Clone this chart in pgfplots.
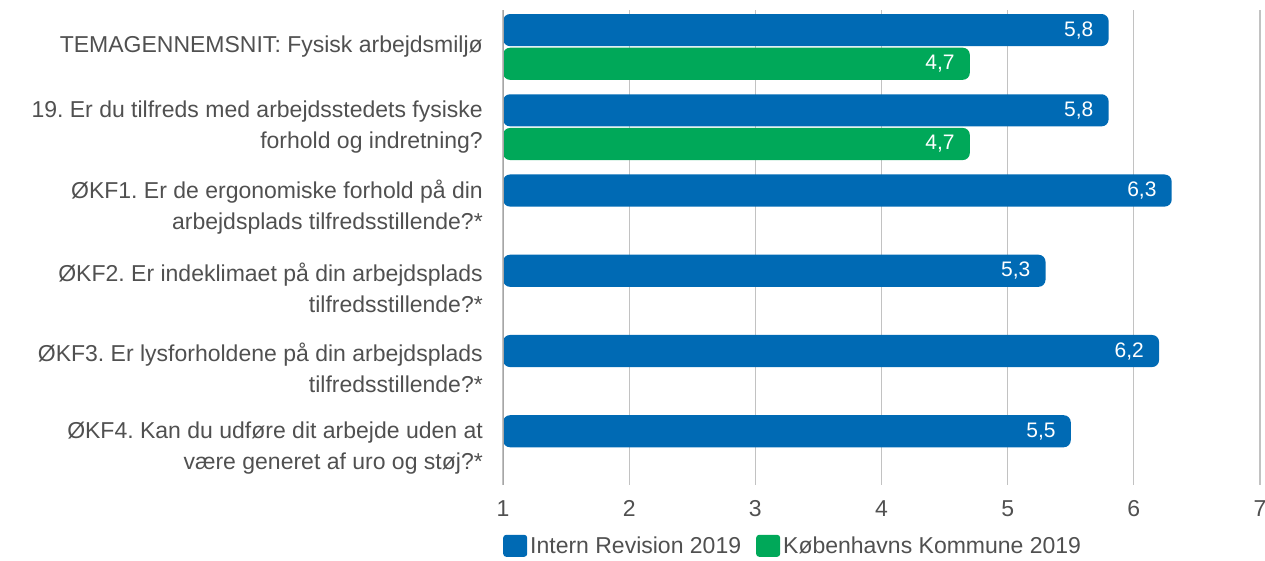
\documentclass[border=0pt]{standalone}
\usepackage{fontspec}
\setmainfont{Liberation Sans}
\usepackage{pgfplots}
\pgfplotsset{compat=1.18}
\definecolor{ablue}{RGB}{0,106,180}
\definecolor{agreen}{RGB}{0,168,89}
\definecolor{txt}{RGB}{80,80,80}
\frenchspacing
\begin{document}
\begin{tikzpicture}
\useasboundingbox (0,0) rectangle (1265pt,-561pt);
\begin{axis}[
  at={(503pt,-485pt)}, anchor=south west,
  scale only axis, width=757pt, height=475pt,
  xmin=1, xmax=7, xtick={1,...,7},
  ymin=-0.46, ymax=5.46, y dir=reverse,
  ytick={0,...,5},
  yticklabels={
    {TEMAGENNEMSNIT: Fysisk arbejdsmilj\o},
    {19. Er du tilfreds med arbejdsstedets fysiske\\forhold og indretning?},
    {\O KF1. Er de ergonomiske forhold p\aa{} din\\arbejdsplads tilfredsstillende?*},
    {\O KF2. Er indeklimaet p\aa{} din arbejdsplads\\tilfredsstillende?*},
    {\O KF3. Er lysforholdene p\aa{} din arbejdsplads\\tilfredsstillende?*},
    {\O KF4. Kan du udf\o re dit arbejde uden at\\v\ae re generet af uro og st\o j?*}},
  xbar, bar width=0.4,
  axis line style={draw=none},
  major tick length=0pt,
  xmajorgrids, grid style={line width=1.3pt, color=black!24},
  /pgf/number format/assume math mode=true,
  yticklabel style={align=right, font=\fontsize{23}{31}\selectfont, text=txt, inner sep=0pt, xshift=-20pt},
  xticklabel style={font=\fontsize{23}{26}\selectfont, text=txt, inner sep=0pt, yshift=-15pt},
  nodes near coords={\pgfmathprintnumber[fixed,fixed zerofill,precision=1,use comma]{\pgfplotspointmeta}},
  nodes near coords style={anchor=east, text=white, font=\fontsize{21}{24}\selectfont, inner sep=0pt, xshift=-15pt},
  legend style={at={(0,-0.128)}, anchor=west, draw=none, fill=none, legend columns=2,
    font=\fontsize{23}{26}\selectfont, text=txt, inner sep=0pt,
    nodes={inner sep=3pt},
    /tikz/every even column/.append style={column sep=12pt}},
]
\addplot[fill=ablue, draw=none, rounded corners=7pt, bar shift=-0.21,
  legend image code/.code={\fill[ablue,rounded corners=3pt] (0pt,-11pt) rectangle (24pt,11pt);}]
  coordinates {(5.8,0) (5.8,1) (6.3,2) (5.3,3) (6.2,4) (5.5,5)};
\addlegendentry{Intern Revision 2019}
\addplot[fill=agreen, draw=none, rounded corners=7pt, bar shift=0.21,
  legend image code/.code={\fill[agreen,rounded corners=3pt] (0pt,-11pt) rectangle (24pt,11pt);}]
  coordinates {(4.7,0) (4.7,1)};
\addlegendentry{K\o benhavns Kommune 2019}
\draw[line width=2.5pt, color=black!35] (rel axis cs:0,0) -- (rel axis cs:0,1);
\end{axis}
\end{tikzpicture}
\end{document}
